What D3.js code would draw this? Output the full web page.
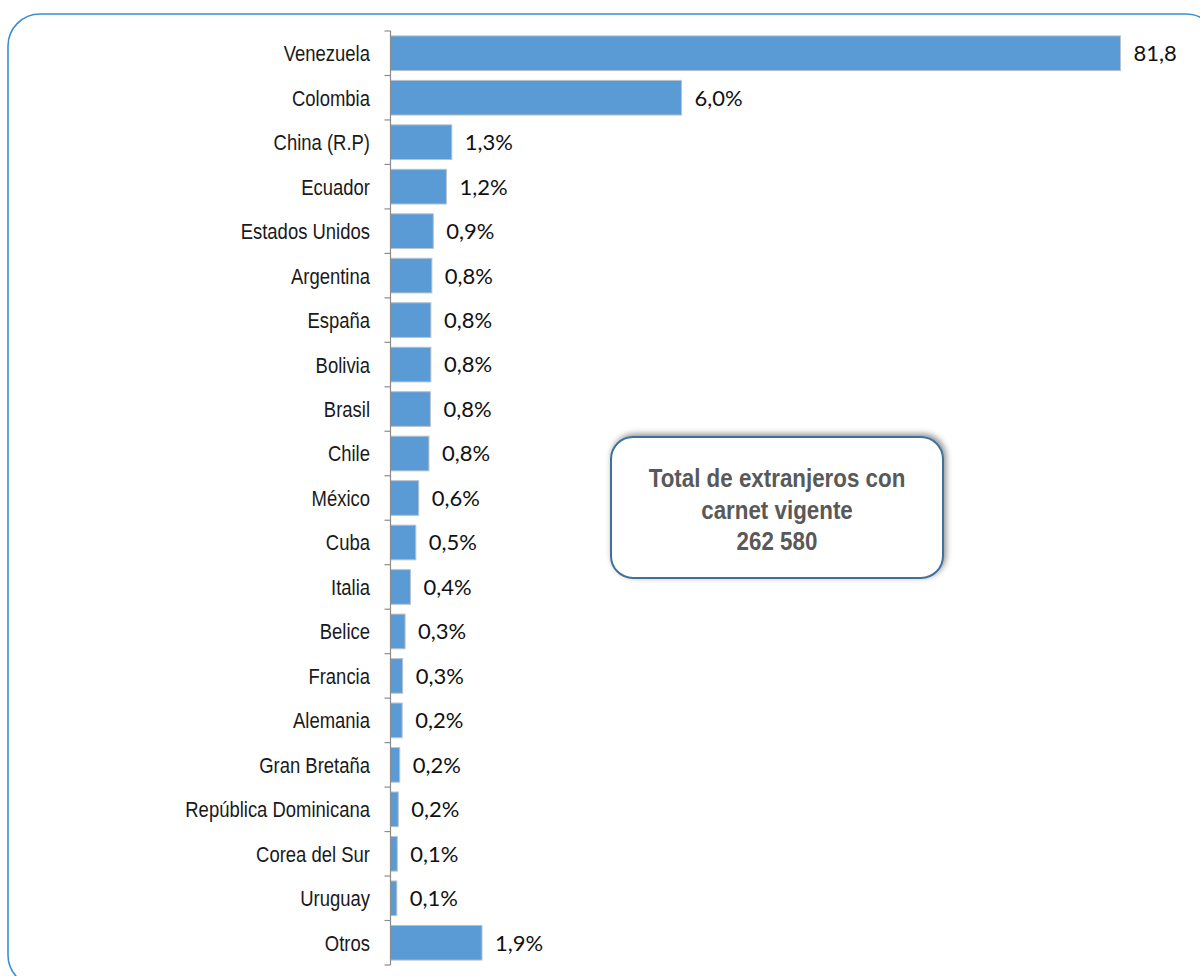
<!DOCTYPE html>
<html>
<head>
<meta charset="utf-8">
<script src="https://cdn.jsdelivr.net/npm/d3@7"></script>
<style>
  html, body { margin: 0; padding: 0; background: #ffffff; }
  svg { display: block; }
</style>
</head>
<body>
<svg id="chart" width="1200" height="976"></svg>
<script>
// ---- Data ----
const categories = ["Venezuela", "Colombia", "China (R.P)", "Ecuador", "Estados Unidos", "Argentina",
  "España", "Bolivia", "Brasil", "Chile", "México", "Cuba", "Italia", "Belice", "Francia",
  "Alemania", "Gran Bretaña", "República Dominicana", "Corea del Sur", "Uruguay", "Otros"];
const values = [81.8, 5.98, 1.26, 1.15, 0.88, 0.85, 0.83, 0.83, 0.82, 0.79, 0.58, 0.52, 0.41,
  0.30, 0.25, 0.24, 0.19, 0.16, 0.14, 0.13, 1.88];
const valueLabels = ["81,8", "6,0%", "1,3%", "1,2%", "0,9%", "0,8%", "0,8%", "0,8%", "0,8%", "0,8%",
  "0,6%", "0,5%", "0,4%", "0,3%", "0,3%", "0,2%", "0,2%", "0,2%", "0,1%", "0,1%", "1,9%"];
const axisMax = [15];
const boxLines = ["Total de extranjeros con", "carnet vigente", "262 580"];

// ---- Layout ----
const svg = d3.select("#chart");
const narrowFont = "'Liberation Sans', Arial, sans-serif";

// drop shadow for the text box
const defs = svg.append("defs");
const f = defs.append("filter").attr("id", "shadow").attr("x", "-20%").attr("y", "-20%")
  .attr("width", "140%").attr("height", "140%");
f.append("feDropShadow").attr("dx", 2).attr("dy", -2).attr("stdDeviation", 3)
  .attr("flood-color", "#000").attr("flood-opacity", 0.45);

// outer rounded frame
svg.append("rect")
  .attr("x", 8).attr("y", 14).attr("width", 1210).attr("height", 973)
  .attr("rx", 32).attr("ry", 32)
  .attr("fill", "none").attr("stroke", "#3a8fd0").attr("stroke-width", 1.6);

const x = d3.scaleLinear().domain([0, axisMax[0]]).range([390.5, 1120.5]).clamp(true);
const y = d3.scaleBand().domain(categories).range([31, 965]).paddingInner(0.22).paddingOuter(0.11);

// bars
svg.append("g").selectAll("rect").data(categories).join("rect")
  .attr("x", x(0))
  .attr("y", d => y(d))
  .attr("width", (d, i) => x(values[i]) - x(0))
  .attr("height", y.bandwidth())
  .attr("fill", "#5b9bd5")
  .attr("stroke", "#b8c4cf").attr("stroke-width", 1);

// axis (vertical line with ticks at band boundaries)
const axisG = svg.append("g");
axisG.append("line")
  .attr("x1", x(0)).attr("x2", x(0)).attr("y1", 31).attr("y2", 965)
  .attr("stroke", "#8c8c8c").attr("stroke-width", 1.2);
const boundaries = d3.range(categories.length + 1).map(i => 31 + i * y.step());
axisG.selectAll("line.tick").data(boundaries).join("line").attr("class", "tick")
  .attr("x1", x(0) - 6).attr("x2", x(0)).attr("y1", d => d).attr("y2", d => d)
  .attr("stroke", "#8c8c8c").attr("stroke-width", 1.2);

// category labels (condensed sans)
svg.append("g").selectAll("text").data(categories).join("text")
  .attr("transform", d => `translate(370,${y(d) + y.bandwidth() / 2}) scale(0.84,1)`)
  .attr("dy", "0.36em")
  .attr("text-anchor", "end")
  .attr("font-family", narrowFont)
  .attr("font-size", 22)
  .attr("fill", "#1a1a1a")
  .text(d => d);

// value labels
svg.append("g").selectAll("text").data(categories).join("text")
  .attr("x", (d, i) => x(values[i]) + 13)
  .attr("y", d => y(d) + y.bandwidth() / 2)
  .attr("dy", "0.36em")
  .attr("font-family", "Lato, 'Open Sans', sans-serif")
  .attr("font-size", 22)
  .attr("fill", "#111")
  .text((d, i) => valueLabels[i]);

// text box
svg.append("rect")
  .attr("x", 611).attr("y", 437).attr("width", 332).attr("height", 141)
  .attr("rx", 22).attr("ry", 22)
  .attr("fill", "#ffffff").attr("stroke", "#41719c").attr("stroke-width", 2)
  .attr("filter", "url(#shadow)");
svg.append("g").selectAll("text").data(boxLines).join("text")
  .attr("transform", (d, i) => `translate(777,${487 + i * 31.5}) scale(0.86,1)`)
  .attr("text-anchor", "middle")
  .attr("font-family", narrowFont)
  .attr("font-weight", "bold")
  .attr("font-size", 26)
  .attr("fill", "#595959")
  .text(d => d);
</script>
</body>
</html>
